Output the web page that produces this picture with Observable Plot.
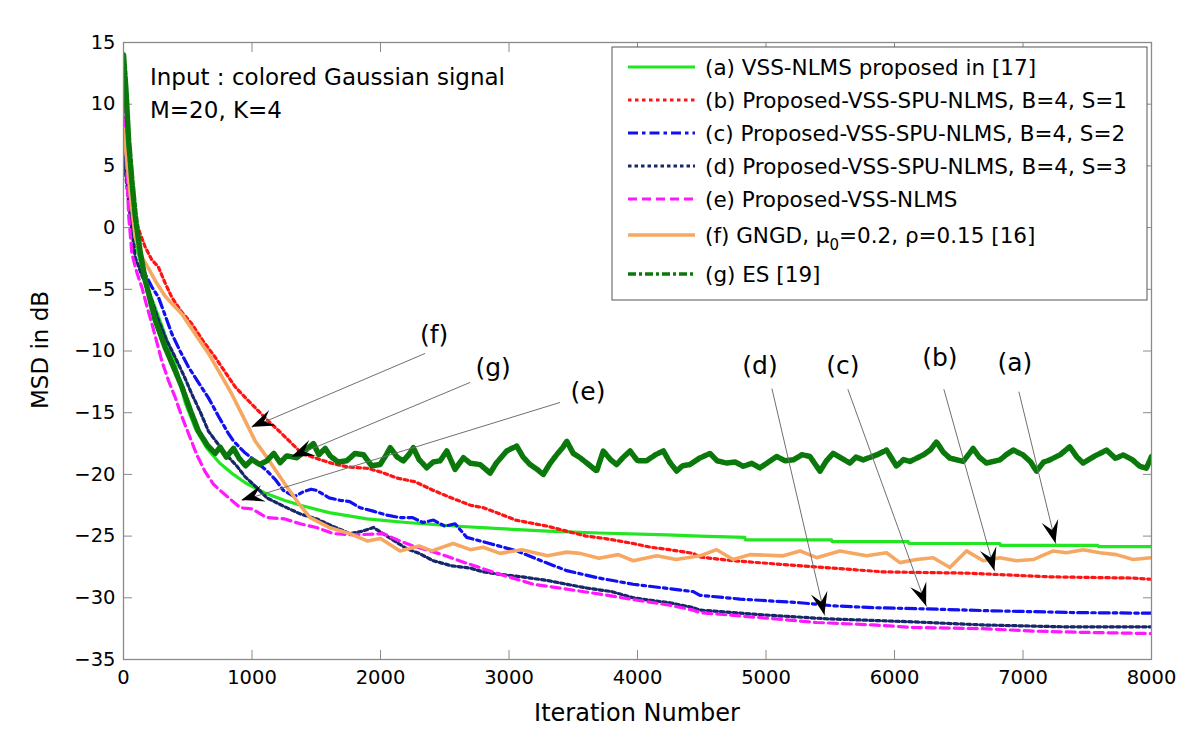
<!DOCTYPE html>
<html><head><meta charset="utf-8">
<script src="https://cdn.jsdelivr.net/npm/d3@7"></script>
<script src="https://cdn.jsdelivr.net/npm/@observablehq/plot@0.6"></script>
<style>html,body{margin:0;padding:0;background:#fff;} svg{display:block}</style>
</head><body><div id="chart"></div>
<script>
// ---------- data (iteration, MSD dB) ----------
const xTicks = [0,1000,2000,3000,4000,5000,6000,7000,8000];
const yTicks = [-35,-30,-25,-20,-15,-10,-5,0,5,10,15];

const seriesA = [[0,9],[30,4],[60,1],[100,-1.5],[150,-3.5],[200,-5.2],[250,-6.6],[300,-8.0],[400,-11.0],[481,-14.2],[560,-16.3],[650,-17.9],[750,-19.1],[855,-20],[950,-20.7],[1100,-21.5],[1250,-22.1],[1377,-22.5],[1600,-23.1],[1894,-23.6],[2200,-23.9],[2600,-24.2],[2930,-24.4],[3300,-24.6],[3700,-24.75],[4229,-24.9],[4485,-25.0],[4835,-25.1],[4840,-25.3],[5510,-25.3],[5515,-25.45],[6107,-25.45],[6112,-25.6],[6820,-25.6],[6825,-25.75],[7582,-25.75],[7587,-25.85],[8000,-25.85]];

const seriesB = [[0,7],[40,3.5],[80,1],[130,-0.5],[170,-1.6],[220,-2.6],[272,-3.2],[320,-4.4],[376,-5.65],[450,-6.8],[532,-7.8],[620,-9.2],[713,-10.5],[790,-11.7],[869,-12.9],[950,-13.8],[1025,-14.6],[1130,-15.7],[1232,-16.7],[1310,-17.5],[1388,-18.3],[1500,-18.7],[1620,-19.1],[1750,-19.4],[1893,-19.5],[2000,-19.8],[2130,-20.3],[2269,-20.6],[2412,-21.3],[2550,-21.9],[2700,-22.5],[2800,-22.7],[2930,-23.2],[3050,-23.7],[3200,-24.0],[3300,-24.2],[3449,-24.6],[3600,-25.0],[3750,-25.2],[3967,-25.6],[4100,-25.9],[4250,-26.1],[4434,-26.4],[4486,-26.7],[4745,-27.0],[5134,-27.3],[5523,-27.6],[5912,-27.9],[6560,-28.0],[7209,-28.3],[7857,-28.4],[8000,-28.5]];

const seriesC = [[0,6],[40,3],[90,0],[130,-2.3],[170,-3.8],[220,-4.8],[272,-5.65],[320,-7],[376,-8.6],[440,-10],[506,-11.3],[580,-12.5],[661,-13.8],[740,-15.3],[817,-16.7],[856,-17.3],[940,-18.2],[1025,-18.9],[1115,-19.7],[1180,-20.4],[1245,-21.3],[1330,-21.8],[1400,-21.4],[1460,-21.2],[1504,-21.3],[1600,-21.9],[1686,-22.1],[1760,-22.2],[1841,-22.7],[1950,-23.0],[2050,-23.3],[2152,-23.5],[2250,-23.5],[2330,-23.9],[2412,-23.7],[2500,-24.2],[2580,-24.0],[2671,-25.1],[2850,-25.6],[3060,-26.2],[3250,-27.0],[3449,-27.8],[3700,-28.4],[3967,-28.9],[4200,-29.2],[4434,-29.5],[4486,-29.8],[4797,-30.1],[5264,-30.4],[5523,-30.65],[5834,-30.8],[6249,-30.9],[6742,-31.05],[7416,-31.2],[8000,-31.25]];

const seriesD = [[0,6],[40,2],[91,-2.4],[140,-3.8],[194,-5.1],[230,-6.2],[272,-7.5],[330,-9],[402,-10.5],[470,-12],[532,-13.5],[600,-15],[661,-16.5],[740,-17.6],[817,-18.6],[880,-19.3],[947,-20.2],[1030,-21.0],[1115,-21.9],[1250,-22.6],[1375,-23.2],[1500,-23.6],[1650,-24.3],[1763,-24.8],[1860,-24.6],[1945,-24.3],[2050,-25.0],[2200,-26.0],[2300,-26.4],[2412,-27],[2550,-27.4],[2700,-27.6],[2800,-27.9],[2930,-28.1],[3100,-28.3],[3300,-28.6],[3449,-28.9],[3600,-29.2],[3800,-29.5],[3967,-30.0],[4100,-30.2],[4250,-30.4],[4434,-30.8],[4486,-31.0],[5005,-31.4],[5471,-31.7],[6146,-31.95],[6690,-32.2],[7312,-32.35],[8000,-32.35]];

const seriesE = [[0,11.2],[20,6],[40,1],[65,-2.1],[100,-3.5],[143,-4.85],[180,-6.3],[221,-7.8],[260,-9.3],[298,-10.8],[350,-12.4],[402,-13.75],[450,-15.2],[506,-16.7],[570,-18.4],[636,-19.8],[700,-20.8],[752,-21.3],[830,-22],[908,-22.7],[1000,-22.8],[1115,-23.5],[1250,-23.6],[1375,-24],[1500,-24.3],[1634,-24.8],[1800,-24.9],[2023,-24.8],[2150,-25.4],[2282,-25.9],[2450,-26.4],[2671,-27.2],[2900,-28],[3190,-28.9],[3450,-29.3],[3708,-29.7],[4000,-30.2],[4250,-30.6],[4434,-31],[4486,-31.2],[5005,-31.65],[5394,-32.0],[5834,-32.2],[6146,-32.4],[6690,-32.5],[7079,-32.7],[7468,-32.8],[8000,-32.9]];

const seriesF = [[0,8],[30,5],[60,2],[91,-0.8],[150,-2.5],[200,-3.4],[247,-4.3],[320,-5.5],[380,-6.2],[454,-7],[550,-8.5],[661,-10.2],[750,-11.8],[843,-13.5],[930,-15.3],[1025,-17.3],[1115,-18.6],[1206,-20],[1271,-21],[1360,-22.3],[1452,-23.5],[1600,-24.3],[1763,-24.8],[1900,-25.4],[2000,-25.2],[2152,-26.2],[2300,-25.8],[2400,-26.2],[2565,-25.6],[2700,-26.1],[2800,-25.9],[2930,-26.4],[3100,-26.1],[3300,-26.6],[3450,-26.3],[3552,-26.4],[3700,-26.8],[3850,-26.5],[3967,-27],[4150,-26.6],[4300,-26.9],[4486,-26.6],[4616,-26.1],[4745,-26.9],[4875,-26.5],[5134,-26.6],[5264,-26.2],[5394,-26.75],[5575,-26.2],[5783,-26.6],[5938,-26.35],[6042,-27.15],[6171,-26.9],[6301,-26.75],[6431,-27.55],[6560,-26.2],[6690,-27.0],[6820,-26.75],[6949,-27.0],[7079,-26.9],[7235,-26.2],[7338,-26.35],[7468,-26.1],[7598,-26.35],[7727,-26.5],[7857,-26.9],[8000,-26.75]];

const seriesG = [[0,14],[20,11],[40,7],[65,3.8],[91,1],[130,-2],[170,-4.3],[247,-7.5],[324,-9.7],[390,-11.3],[454,-12.9],[520,-14.8],[583,-16.5],[650,-17.6],[713,-18.3],[752,-17.8],[800,-18.6],[856,-17.9],[900,-18.7],[950,-19.3],[1000,-18.8],[1060,-19.2],[1115,-18.9],[1170,-18.3],[1219,-19.05],[1270,-18.5],[1322,-18.6],[1349,-18.65],[1400,-18.2],[1478,-17.5],[1520,-18.4],[1570,-17.9],[1608,-18.5],[1670,-19.0],[1738,-18.9],[1800,-18.3],[1867,-18.4],[1930,-19.3],[1997,-19.2],[2040,-18.5],[2075,-17.84],[2130,-18.6],[2178,-18.9],[2220,-18.4],[2256,-17.84],[2300,-18.8],[2360,-19.46],[2410,-19.0],[2464,-18.9],[2516,-18.1],[2580,-19.6],[2645,-18.65],[2700,-19.1],[2775,-19.2],[2853,-19.9],[2900,-19.1],[2982,-18.1],[3060,-17.7],[3110,-18.6],[3164,-19.2],[3220,-19.6],[3267,-20.0],[3320,-19.1],[3371,-18.4],[3420,-17.8],[3449,-17.3],[3500,-18.3],[3553,-18.65],[3620,-19.2],[3682,-19.73],[3734,-18.1],[3790,-18.8],[3838,-19.2],[3890,-18.6],[3942,-18.1],[4000,-18.9],[4071,-18.9],[4140,-18.4],[4201,-18.1],[4250,-19.0],[4305,-19.73],[4350,-19.3],[4408,-19.2],[4480,-18.7],[4564,-18.3],[4620,-18.9],[4694,-19.08],[4760,-19.0],[4823,-19.34],[4890,-19.1],[4953,-19.47],[5020,-19.0],[5083,-18.55],[5150,-18.9],[5212,-18.82],[5280,-18.4],[5342,-18.55],[5420,-19.74],[5470,-18.9],[5523,-18.29],[5590,-18.7],[5653,-19.08],[5700,-18.6],[5757,-18.82],[5861,-18.42],[5938,-18.03],[6016,-19.34],[6070,-18.8],[6120,-18.95],[6224,-18.42],[6280,-18.0],[6327,-17.37],[6380,-18.2],[6431,-18.68],[6535,-18.95],[6612,-17.9],[6660,-18.6],[6716,-19.08],[6820,-18.82],[6870,-18.4],[6924,-18.03],[7001,-18.42],[7060,-19.0],[7105,-19.74],[7160,-19.0],[7209,-18.82],[7290,-18.4],[7364,-17.76],[7420,-18.6],[7468,-19.08],[7560,-18.5],[7650,-18.03],[7720,-18.7],[7779,-18.42],[7850,-18.8],[7909,-19.34],[7960,-19.5],[8000,-18.55]];

// annotations: label position, line start, arrow tip (data units)
const annLabels = ["(a)","(b)","(c)","(d)","(e)","(f)","(g)"];
const annTextX  = [6937, 6353, 5599, 4953, 3615, 2418, 2876];
const annTextY  = [-11.0, -10.6, -11.2, -11.2, -13.3, -8.7, -11.4];
const annFromX  = [6968, 6384, 5637, 5046, 3397, 2347, 2697];
const annFromY  = [-13.3, -13.1, -13.1, -13.05, -14.17, -10.2, -12.55];
const annTipX   = [7256, 6781, 6250, 5458, 921, 999, 1310];
const annTipY   = [-25.63, -27.85, -30.71, -31.44, -22.12, -16.18, -18.61];

const legendLabels = [
  "(a) VSS-NLMS proposed in [17]",
  "(b) Proposed-VSS-SPU-NLMS, B=4, S=1",
  "(c) Proposed-VSS-SPU-NLMS, B=4, S=2",
  "(d) Proposed-VSS-SPU-NLMS, B=4, S=3",
  "(e) Proposed-VSS-NLMS",
  "(f) GNGD, μ|0|=0.2, ρ=0.15 [16]",
  "(g) ES [19]"
];

// ---------- styles ----------
const seriesList = [seriesA, seriesB, seriesC, seriesD, seriesE, seriesF, seriesG];
const styles = [
  {stroke:"#22e622", strokeWidth:3.2, dash:null},
  {stroke:"#ff1414", strokeWidth:3.2, dash:"3.5,3.5"},
  {stroke:"#1010f0", strokeWidth:3.2, dash:"10,4,3.5,4"},
  {stroke:"#17286a", strokeWidth:3.2, dash:"3.5,3"},
  {stroke:"#ff18ff", strokeWidth:3.2, dash:"9,5"},
  {stroke:"#f6a862", strokeWidth:3.6, dash:null},
  {stroke:"#0b780b", strokeWidth:5.5, dash:"14,2,4,2"}
];
const axisGrey = "#8a8a8a";
const font = "'DejaVu Sans', Verdana, sans-serif";

const annTable = annLabels.map((t,i)=>({t, tx:annTextX[i], ty:annTextY[i], fx:annFromX[i], fy:annFromY[i], px:annTipX[i], py:annTipY[i]}));

const lineMarks = seriesList.map((s,i)=>Plot.line(s, {
  x: d=>d[0], y: d=>d[1], stroke: styles[i].stroke, strokeWidth: styles[i].strokeWidth,
  strokeDasharray: styles[i].dash || undefined, strokeLinejoin:"round", clip:true
}));

const fmt = d3.format("d");
const plot = Plot.plot({
  width: 1200, height: 752,
  marginLeft: 123, marginRight: 49, marginTop: 42, marginBottom: 93,
  style: {fontFamily: font, background: "#fff", color: "#000", overflow: "visible"},
  x: {domain: [0, 8000]},
  y: {domain: [-35, 15]},
  marks: [
    Plot.axisX(xTicks, {anchor:"bottom", tickSize:0, tickPadding:11, fontSize:19.5, tickFormat:fmt, label:null}),
    Plot.axisY(yTicks, {anchor:"left", tickSize:0, tickPadding:8, fontSize:19.5, tickFormat:fmt, label:null}),
    Plot.axisX(xTicks, {anchor:"bottom", tickSize:9, dy:-9, tickFormat:()=>"", stroke:axisGrey, label:null}),
    Plot.axisX(xTicks, {anchor:"top", tickSize:9, dy:9, tickFormat:()=>"", stroke:axisGrey, label:null}),
    Plot.axisY(yTicks, {anchor:"left", tickSize:9, dx:9, tickFormat:()=>"", stroke:axisGrey, label:null}),
    Plot.axisY(yTicks, {anchor:"right", tickSize:9, dx:-9, tickFormat:()=>"", stroke:axisGrey, label:null}),
    ...lineMarks,
    Plot.link(annTable, {x1:"fx", y1:"fy", x2:"px", y2:"py", stroke:"#707070", strokeWidth:1}),
    Plot.text(annTable, {x:"tx", y:"ty", text:"t", fontSize:25, fill:"#000"}),
    Plot.frame({stroke: axisGrey, strokeWidth:1.3})
  ]
});

document.getElementById("chart").appendChild(plot);

// ---------- arrowheads, legend and labels ----------
const sx = plot.scale("x"), sy = plot.scale("y");
const svg = d3.select(plot);
const heads = svg.append("g");
annTable.forEach(a => {
  const x0 = sx.apply(a.fx), y0 = sy.apply(a.fy), x1 = sx.apply(a.px), y1 = sy.apply(a.py);
  const dx = x1-x0, dy = y1-y0, len = Math.hypot(dx,dy);
  const ux = dx/len, uy = dy/len, nx = -uy, ny = ux;
  const L = 23, W = 8.5;
  const pts = [
    [x1, y1],
    [x1 - L*ux + W*nx, y1 - L*uy + W*ny],
    [x1 - 0.6*L*ux, y1 - 0.6*L*uy],
    [x1 - L*ux - W*nx, y1 - L*uy - W*ny]
  ];
  heads.append("path").attr("d", "M" + pts.map(p=>p.join(",")).join("L") + "Z").attr("fill", "#000");
});

// legend
const lg = svg.append("g").attr("font-family", font).attr("text-anchor", "start");
lg.append("rect").attr("x", 612).attr("y", 47).attr("width", 535).attr("height", 253)
  .attr("fill", "#fff").attr("stroke", "#555").attr("stroke-width", 1);
const rowY = [67, 100, 133, 166, 199, 235, 274];
legendLabels.forEach((lab, i) => {
  const st = styles[i];
  lg.append("line").attr("x1", 628).attr("x2", 695).attr("y1", rowY[i]).attr("y2", rowY[i])
    .attr("stroke", st.stroke).attr("stroke-width", Math.min(st.strokeWidth, 3.6))
    .attr("stroke-dasharray", i === 6 ? "8,3,3,3" : st.dash);
  const t = lg.append("text").attr("x", 705).attr("y", rowY[i]).attr("dy", "0.36em")
    .attr("font-size", 21.5).attr("fill", "#000").attr("text-anchor", "start");
  const parts = lab.split("|");
  if (parts.length === 3) {
    t.append("tspan").text(parts[0]);
    t.append("tspan").attr("font-size", 15).attr("dy", 7).text(parts[1]);
    t.append("tspan").attr("dy", -7).text(parts[2]);
  } else {
    t.text(lab);
  }
});

// input description text
const info = svg.append("g").attr("font-family", font).attr("text-anchor", "start").attr("font-size", 23);
info.append("text").attr("x", 150).attr("y", 85).text("Input : colored Gaussian signal");
info.append("text").attr("x", 150).attr("y", 118).text("M=20, K=4");

// axis titles
svg.append("text").attr("x", 637).attr("y", 721).attr("text-anchor", "middle")
  .attr("font-family", font).attr("font-size", 24).text("Iteration Number");
svg.append("text").attr("transform", "translate(40,350) rotate(-90)").attr("text-anchor", "middle")
  .attr("dy", "0.35em").attr("font-family", font).attr("font-size", 23).text("MSD in dB");
</script></body></html>
